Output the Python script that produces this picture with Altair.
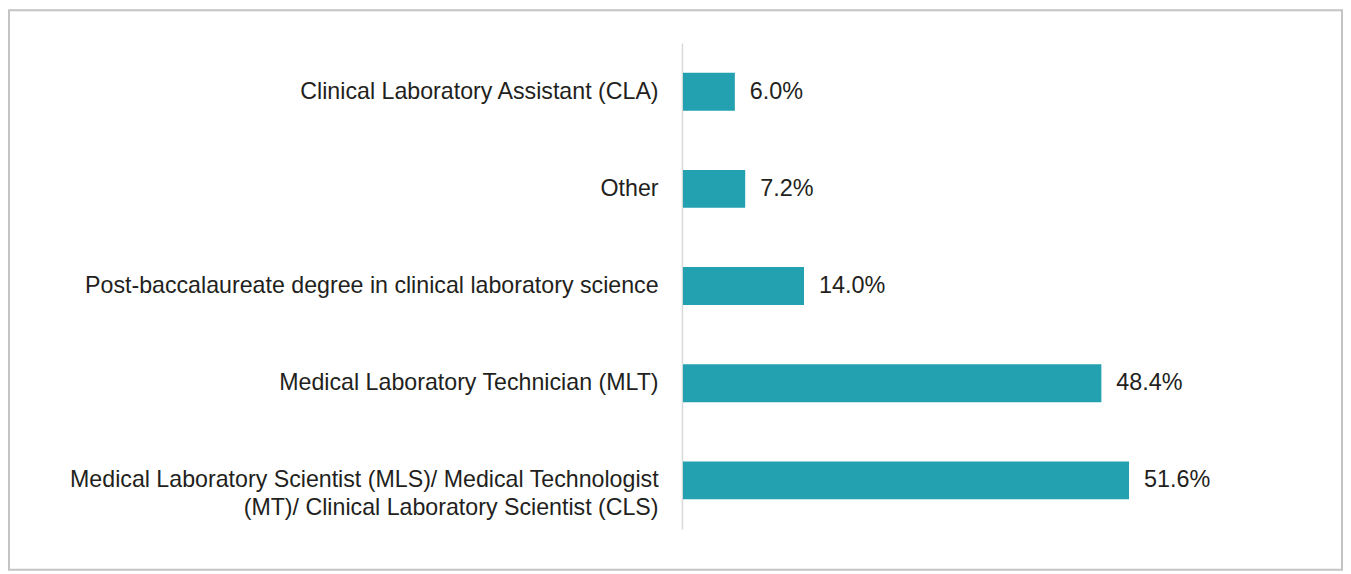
import altair as alt
import pandas as pd

# Data
categories = [
    "Clinical Laboratory Assistant (CLA)",
    "Other",
    "Post-baccalaureate degree in clinical laboratory science",
    "Medical Laboratory Technician (MLT)",
    "Medical Laboratory Scientist (MLS)/ Medical Technologist|(MT)/ Clinical Laboratory Scientist (CLS)",
]
values = [6.0, 7.2, 14.0, 48.4, 51.6]
value_labels = ["6.0%", "7.2%", "14.0%", "48.4%", "51.6%"]

df = pd.DataFrame({"category": categories, "value": values, "label": value_labels})

FONT = "Liberation Sans"
TEXT = "#231f20"
BAR = "#23a1b0"

y_enc = alt.Y(
    "category:N",
    sort=categories,
    title=None,
    scale=alt.Scale(paddingInner=0.61, paddingOuter=0.305),
    axis=alt.Axis(
        labelExpr="split(datum.label, '|')",
        labelFont=FONT,
        labelFontSize=23.3,
        labelColor=TEXT,
        labelPadding=24,
        labelLineHeight=28,
        labelLimit=700,
        ticks=False,
        grid=False,
        domain=True,
        domainColor="#d9d9d9",
        domainWidth=1.5,
        offset=1,
    ),
)
x_enc = alt.X("value:Q", title=None, scale=alt.Scale(domain=[0, 60]), axis=None)

base = alt.Chart(df)

bars = base.mark_bar(color=BAR).encode(x=x_enc, y=y_enc)
texts = base.mark_text(
    align="left", baseline="middle", dx=15, font=FONT, fontSize=23.5, color=TEXT
).encode(x=x_enc, y=alt.Y("category:N", sort=categories), text="label:N")

border = alt.Chart(pd.DataFrame({"b": [0]})).mark_rect(
    fill=None, stroke="#c4c4c4", strokeWidth=2
).encode(
    x=alt.value(-677), x2=alt.value(662), y=alt.value(-33), y2=alt.value(529)
)

chart = (
    alt.layer(border, bars, texts)
    .properties(width=521, height=488, padding=0, background="white")
    .configure_view(stroke=None)
)

chart.save("out.html", embed_options={"renderer": "svg", "actions": False})
